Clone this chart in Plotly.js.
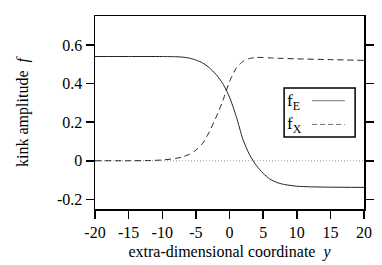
<!DOCTYPE html>
<html><head><meta charset="utf-8">
<script src="https://cdn.plot.ly/plotly-3.0.1.min.js"></script>
<style>html,body{margin:0;padding:0;background:#fff;}#chart{width:382px;height:265px;}</style>
</head><body><div id="chart"></div>
<script>
// Data
const yCoord = [-20, -15, -10, -8, -7, -6, -5, -4, -3, -2, -1, 0, 1, 2, 3, 4, 5, 6, 7, 8, 10, 12, 15, 20];
const fE = [0.540, 0.540, 0.540, 0.539, 0.537, 0.532, 0.522, 0.507, 0.482, 0.447, 0.400, 0.330, 0.230, 0.110, 0.030, -0.025, -0.065, -0.095, -0.112, -0.122, -0.132, -0.135, -0.137, -0.138];
const yCoordX = [-20, -15, -12, -10, -8, -7, -6, -5, -4, -3, -2, -1, 0, 1, 2, 3, 4, 5, 6, 8, 10, 15, 20];
const fX = [0, 0, 0.001, 0.004, 0.012, 0.020, 0.033, 0.055, 0.090, 0.150, 0.225, 0.310, 0.410, 0.480, 0.515, 0.530, 0.535, 0.535, 0.533, 0.530, 0.528, 0.524, 0.520];
const xTicks = [-20, -15, -10, -5, 0, 5, 10, 15, 20];
const xTickText = ['-20', '-15', '-10', '-5', '0', '5', '10', '15', '20'];
const yTicks = [-0.2, 0, 0.2, 0.4, 0.6];
const yTickText = ['-0.2', '0', '0.2', '0.4', '0.6'];
const legendNames = ['f<sub>E</sub>', 'f<sub>X</sub>'];

const font = 'Liberation Serif, Times New Roman, serif';
const lineColor = '#222';

const traces = [
  {x: yCoord, y: fE, mode: 'lines', line: {color: lineColor, width: 1, shape: 'spline', smoothing: 0.6}, showlegend: false, hoverinfo: 'skip'},
  {x: yCoordX, y: fX, mode: 'lines', line: {color: lineColor, width: 1, dash: '6px,4px', shape: 'spline', smoothing: 0.6}, showlegend: false, hoverinfo: 'skip'}
];

// legend box geometry (paper coords)
const lx0 = 0.703, lx1 = 0.967, ly0 = 0.373, ly1 = 0.627;
const rowY = [0.561, 0.438];
const shapes = [
  {type: 'line', xref: 'paper', yref: 'y', x0: 0, x1: 1, y0: 0, y1: 0, line: {color: '#999', width: 1, dash: '1px,2px'}, layer: 'below'},
  {type: 'rect', xref: 'paper', yref: 'paper', x0: lx0, x1: lx1, y0: ly0, y1: ly1, line: {color: '#000', width: 1.5}, fillcolor: '#fff'},
  {type: 'line', xref: 'paper', yref: 'paper', x0: 0.807, x1: 0.929, y0: rowY[0], y1: rowY[0], line: {color: '#777', width: 1}},
  {type: 'line', xref: 'paper', yref: 'paper', x0: 0.807, x1: 0.929, y0: rowY[1], y1: rowY[1], line: {color: '#777', width: 1, dash: '5px,3px'}}
];
const annotations = legendNames.map((t, i) => ({
  xref: 'paper', yref: 'paper', x: 0.708, y: rowY[i] - 0.005, xanchor: 'left', yanchor: 'middle',
  text: t, showarrow: false, font: {family: font, size: 17, color: '#000'}
}));

const layout = {
  width: 382, height: 265,
  margin: {l: 95, r: 18, t: 16, b: 56},
  paper_bgcolor: '#fff', plot_bgcolor: '#fff',
  font: {family: font, size: 16, color: '#000'},
  showlegend: false,
  xaxis: {
    range: [-20, 20], tickvals: xTicks, ticktext: xTickText,
    ticks: 'outside', ticklen: 8, tickwidth: 1.5, tickcolor: '#000',
    showline: true, linecolor: '#000', linewidth: 1.5, mirror: true,
    showgrid: false, zeroline: false,
    tickfont: {family: font, size: 16},
    title: {text: 'extra-dimensional coordinate  <i>y</i>', font: {family: font, size: 16}, standoff: 6}
  },
  yaxis: {
    range: [-0.25, 0.75], tickvals: yTicks, ticktext: yTickText,
    ticks: 'outside', ticklen: 8, tickwidth: 1.5, tickcolor: '#000',
    showline: true, linecolor: '#000', linewidth: 1.5, mirror: 'ticks',
    showgrid: false, zeroline: false,
    tickfont: {family: font, size: 16},
    title: {text: 'kink amplitude  <i>f</i>', font: {family: font, size: 16}, standoff: 24}
  },
  shapes: shapes,
  annotations: annotations
};

Plotly.newPlot('chart', traces, layout, {staticPlot: true, displayModeBar: false});
</script></body></html>
